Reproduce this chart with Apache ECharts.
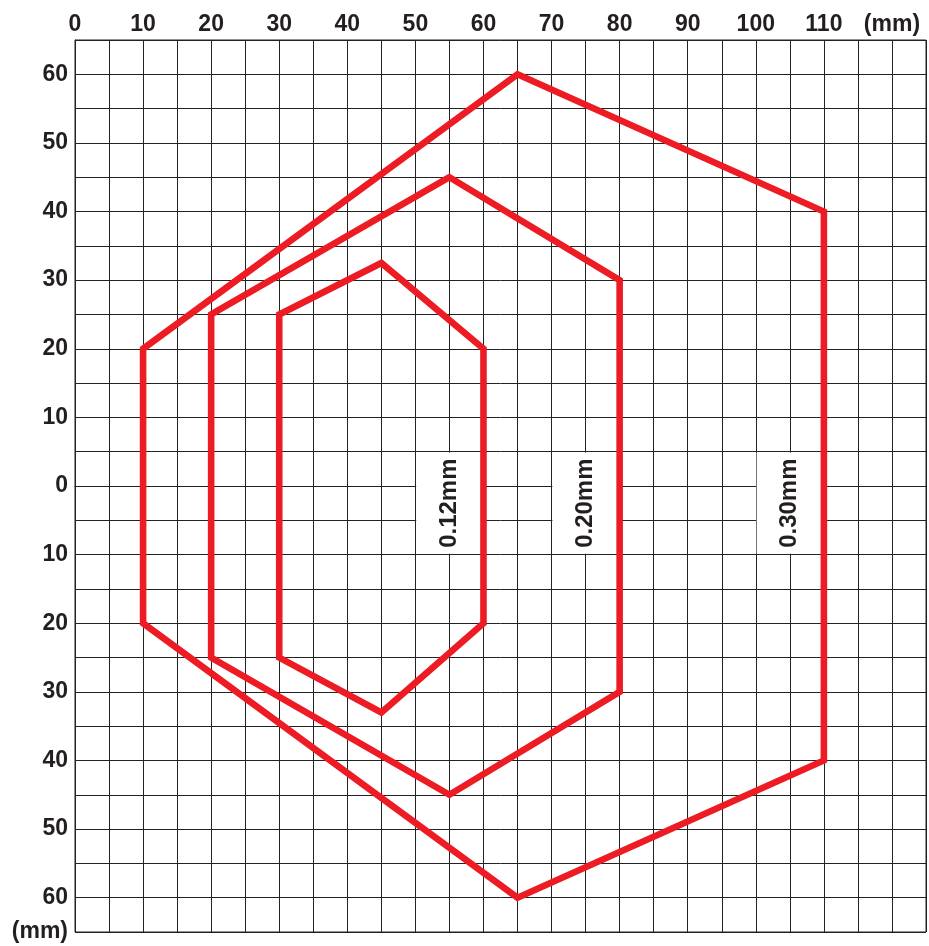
<!DOCTYPE html>
<html>
<head>
<meta charset="utf-8">
<script src="https://cdn.jsdelivr.net/npm/echarts@6/dist/echarts.min.js"></script>
<style>
  html, body { margin: 0; padding: 0; background: #fff; }
  #chart { width: 929px; height: 946px; }
</style>
</head>
<body>
<div id="chart"></div>
<script>
// ---- data ----
const outline012X = [30, 45, 60, 60, 45, 30, 30];
const outline012Y = [25, 32.5, 20, -20, -33, -25, 25];
const outline020X = [20, 55, 80, 80, 55, 20, 20];
const outline020Y = [25, 45, 30, -30, -45, -25, 25];
const outline030X = [10, 65, 110, 110, 65, 10, 10];
const outline030Y = [20, 60, 40, -40, -60, -20, 20];

const seriesNames = ['0.12mm', '0.20mm', '0.30mm'];
const labelBoxX0 = [50, 70, 100];
const labelBoxX1 = [60, 80, 110];
const labelBoxYTop = 5;
const labelBoxYBottom = -10;

const xTickValues = [0, 10, 20, 30, 40, 50, 60, 70, 80, 90, 100, 110];
const yTickValues = [60, 50, 40, 30, 20, 10, 0, -10, -20, -30, -40, -50, -60];
const unitLabel = '(mm)';
const xUnitPos = 120;
const yUnitPos = -65;

// ---- build ----
function toPoints(xs, ys) {
  const pts = xs.map((x, i) => [x, ys[i]]);
  // continue to the second vertex so the closing corner gets a mitred join
  pts.push([xs[1], ys[1]]);
  return pts;
}

const FONT = '"Liberation Sans", Arial, Helvetica, sans-serif';
const TXT = '#231F20';
const RED = '#ED1C24';
const GRIDC = '#222222';

const outlines = [
  [outline012X, outline012Y],
  [outline020X, outline020Y],
  [outline030X, outline030Y]
];

const lineSeries = outlines.map((o, i) => ({
  name: seriesNames[i],
  type: 'line',
  data: toPoints(o[0], o[1]),
  symbol: 'none',
  silent: true,
  z: 5,
  lineStyle: { color: RED, width: 6.6, join: 'miter', cap: 'butt' }
}));

const inset = 0.12;
const boxSeries = {
  type: 'line',
  data: [],
  z: 3,
  silent: true,
  markArea: {
    silent: true,
    itemStyle: { color: '#ffffff', borderWidth: 0 },
    label: {
      show: true,
      position: 'inside',
      rotate: 90,
      formatter: '{b}',
      fontFamily: FONT,
      fontWeight: 'bold',
      fontSize: 24,
      color: TXT
    },
    data: seriesNames.map((n, i) => [
      { name: n, coord: [labelBoxX0[i] + inset, labelBoxYTop - inset] },
      { coord: [labelBoxX1[i] - inset, labelBoxYBottom + inset] }
    ])
  }
};

const option = {
  backgroundColor: '#ffffff',
  animation: false,
  grid: {
    left: 75, top: 40, width: 854, height: 892,
    show: true, borderColor: GRIDC, borderWidth: 1, backgroundColor: 'transparent'
  },
  xAxis: {
    type: 'value',
    position: 'top',
    min: 0, max: 125, interval: 5,
    axisLine: { show: true, lineStyle: { color: GRIDC, width: 1 } },
    axisTick: { show: false },
    splitLine: { show: true, lineStyle: { color: GRIDC, width: 1 } },
    axisLabel: {
      show: true,
      margin: 4,
      showMinLabel: true,
      showMaxLabel: true,
      fontFamily: FONT, fontWeight: 'bold', fontSize: 23, color: TXT,
      formatter: function (v) {
        if (v === xUnitPos) return unitLabel;
        return xTickValues.indexOf(v) >= 0 ? String(v) : '';
      }
    }
  },
  yAxis: {
    type: 'value',
    min: -65, max: 65, interval: 5,
    axisLine: { show: true, lineStyle: { color: GRIDC, width: 1 } },
    axisTick: { show: false },
    splitLine: { show: true, lineStyle: { color: GRIDC, width: 1 } },
    axisLabel: {
      show: true,
      margin: 7,
      showMinLabel: true,
      showMaxLabel: true,
      fontFamily: FONT, fontWeight: 'bold', fontSize: 23, color: TXT,
      formatter: function (v) {
        if (v === yUnitPos) return unitLabel;
        return yTickValues.indexOf(v) >= 0 ? String(Math.abs(v)) : '';
      }
    }
  },
  series: [boxSeries].concat(lineSeries)
};

const chart = echarts.init(document.getElementById('chart'), null, { renderer: 'canvas' });
chart.setOption(option);
</script>
</body>
</html>
